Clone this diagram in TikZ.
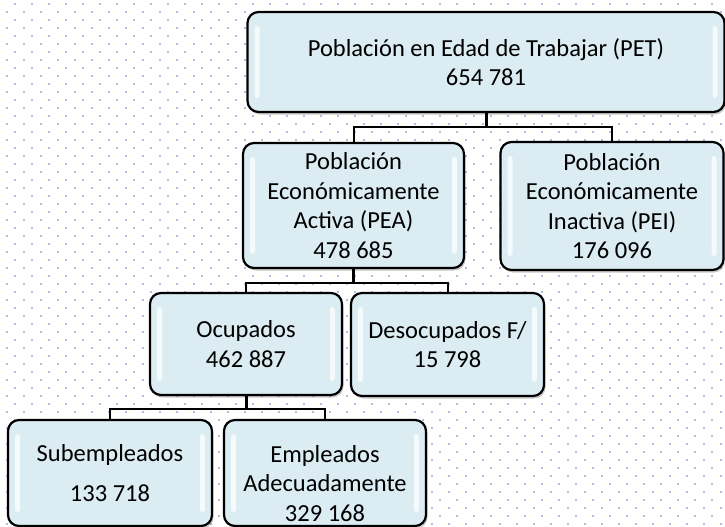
\documentclass[tikz,border=0pt]{standalone}
\usepackage{fontspec}
\setmainfont{Carlito}
\usepackage{tikz}
\usetikzlibrary{shadows}

\definecolor{boxfill}{RGB}{219,236,243}
\definecolor{dotcol}{RGB}{176,186,228}

\tikzset{
  box/.style={draw=black, line width=2.2pt, rounded corners=11pt, fill=boxfill,
    align=center, inner sep=0pt, font=\fontsize{24.5}{29.5}\selectfont,
    drop shadow={shadow xshift=1.5pt, shadow yshift=-2.5pt, opacity=0.3, fill=black!70},
    path picture={
      \fill[white, opacity=0.75, rounded corners=2.5pt]
        ([xshift=7pt, yshift=-14pt]path picture bounding box.north west)
        rectangle ([xshift=12pt, yshift=14pt]path picture bounding box.south west);
      \fill[white, opacity=0.75, rounded corners=2.5pt]
        ([xshift=-12pt, yshift=-14pt]path picture bounding box.north east)
        rectangle ([xshift=-7pt, yshift=14pt]path picture bounding box.south east);
    }},
  link/.style={line width=2pt},
  trunk/.style={line width=3pt}
}

\begin{document}
\begin{tikzpicture}[x=1pt, y=-1pt]

\useasboundingbox (0,0) rectangle (725,527);

% Background dots
\foreach \y in {4,20,...,527}
  \foreach \x in {15,32,...,725}
    \fill[dotcol] (\x,\y) +(-1,-1) rectangle +(1,1);
\foreach \y in {12,28,...,527}
  \foreach \x in {7,24,...,725}
    \fill[dotcol] (\x,\y) +(-1,-1) rectangle +(1,1);

% Nodes
\node[box, minimum width=477, minimum height=100] (pet) at (486, 62)
  {Población en Edad de Trabajar (PET)\\654 781};
\node[box, minimum width=221, minimum height=125] (pea) at (353.5, 205.5)
  {Población\\Económicamente\\Activa (PEA)\\478 685};
\node[box, minimum width=223, minimum height=128] (pei) at (612, 206)
  {Población\\Económicamente\\Inactiva (PEI)\\176 096};
\node[box, minimum width=192, minimum height=102] (ocu) at (246, 344)
  {Ocupados\\462 887};
\node[box, minimum width=193, minimum height=103] (des) at (447.5, 344.5)
  {Desocupados F/\\15 798};
\node[box, minimum width=204, minimum height=106] (sub) at (110, 473)
  {Subempleados\\[10pt]133 718};
\node[box, minimum width=202, minimum height=106] (emp) at (325, 473)
  {\rule{0pt}{38pt}Empleados\\Adecuadamente\\329 168};

% Connectors - first level
\draw[trunk] (pet.south) -- ++(0,14) coordinate (j1);
\draw[link] (pea.north) |- (j1) -| (pei.north);

% Connectors - second level
\draw[trunk] (pea.south) -- ++(0,14) coordinate (j2);
\draw[link] (ocu.north) |- (j2) -| (des.north);

% Connectors - third level
\draw[trunk] (ocu.south) -- ++(0,13) coordinate (j3);
\draw[link] (sub.north) |- (j3) -| (emp.north);

\end{tikzpicture}
\end{document}
